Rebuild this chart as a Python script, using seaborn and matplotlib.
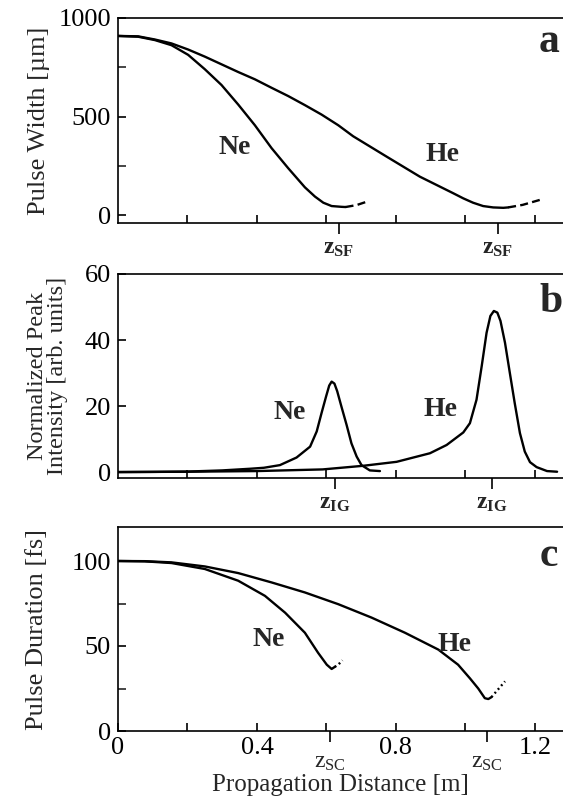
import numpy as np
import pandas as pd
import matplotlib
matplotlib.use("Agg")
import matplotlib.pyplot as plt
import seaborn as sns

# ---- data -------------------------------------------------------------
# (a) pulse width [um] vs propagation distance [m]
width_ne_x = [0.0, 0.058, 0.106, 0.154, 0.202, 0.250, 0.298, 0.346, 0.394, 0.442,
              0.490, 0.538, 0.567, 0.591, 0.615, 0.644, 0.655]
width_ne_y = [909, 905, 888, 862, 813, 740, 660, 561, 456, 340,
              238, 141, 94, 63, 46, 42, 41]
width_ne_tail_x = [0.655, 0.687, 0.716]
width_ne_tail_y = [41, 51, 68]
width_he_x = [0.0, 0.058, 0.106, 0.154, 0.202, 0.250, 0.298, 0.346, 0.394, 0.442,
              0.490, 0.538, 0.586, 0.634, 0.677, 0.773, 0.869, 0.917, 0.965, 0.994,
              1.022, 1.051, 1.080, 1.109, 1.123]
width_he_y = [909, 907, 891, 871, 840, 804, 765, 726, 689, 646,
              604, 558, 510, 456, 400, 297, 195, 153, 111, 85,
              63, 46, 39, 37, 39]
width_he_tail_x = [1.123, 1.165, 1.214]
width_he_tail_y = [39, 52, 77]

# (b) normalized peak intensity [arb. units]
inten_ne_x = [0.0, 0.1, 0.2, 0.3, 0.38, 0.42, 0.466, 0.514, 0.553, 0.572, 0.586,
              0.599, 0.608, 0.615, 0.623, 0.631, 0.643, 0.658, 0.672, 0.687,
              0.701, 0.725, 0.754]
inten_ne_y = [0.0, 0.05, 0.15, 0.5, 1.0, 1.3, 2.1, 4.4, 7.7, 12.3, 17.9,
              22.9, 26.2, 27.4, 26.8, 24.5, 19.9, 14.3, 8.7, 4.7,
              2.1, 0.5, 0.3]
inten_he_x = [0.0, 0.2, 0.4, 0.589, 0.706, 0.802, 0.898, 0.946, 0.994, 1.013,
              1.032, 1.047, 1.061, 1.072, 1.082, 1.092, 1.101, 1.114, 1.128,
              1.142, 1.157, 1.171, 1.186, 1.205, 1.235, 1.264]
inten_he_y = [0.0, 0.1, 0.3, 0.8, 1.9, 3.1, 5.7, 8.2, 12.0, 14.8,
              21.9, 32.1, 42.2, 47.3, 48.8, 48.3, 45.8, 39.2, 30.0,
              20.9, 11.8, 6.2, 3.0, 1.5, 0.3, 0.1]

# (c) pulse duration [fs]
dur_ne_x = [0.0, 0.077, 0.154, 0.25, 0.346, 0.423, 0.481, 0.538, 0.576, 0.601, 0.615, 0.624]
dur_ne_y = [100, 99.8, 98.8, 95.3, 88.4, 79.5, 69.6, 57.8, 46.0, 39.0, 36.5, 37.7]
dur_ne_tail_x = [0.624, 0.634, 0.646]
dur_ne_tail_y = [37.7, 39.0, 41.6]
dur_he_x = [0.0, 0.077, 0.154, 0.25, 0.346, 0.442, 0.538, 0.634, 0.730, 0.826, 0.922,
            0.979, 1.013, 1.037, 1.056, 1.066, 1.075]
dur_he_y = [100, 99.9, 99.2, 96.8, 92.9, 87.4, 81.5, 74.6, 66.7, 57.8, 47.9,
            39.0, 31.0, 25.0, 19.3, 18.8, 19.9]
dur_he_tail_x = [1.075, 1.085, 1.114]
dur_he_tail_y = [19.9, 22.3, 29.2]

# characteristic distances marked under each panel
z_sf = [0.636, 1.094]
z_ig = [0.625, 1.077]
z_sc = [0.609, 1.061]

x_ticks = [0.2, 0.4, 0.6, 0.8, 1.0, 1.2]
c_tick_labels = ["0", "", "0.4", "", "0.8", "", "1.2"]

# ---- style ------------------------------------------------------------
sns.set_theme(style="ticks")
plt.rcParams["font.family"] = ["Liberation Serif", "DejaVu Serif"]
plt.rcParams["mathtext.fontset"] = "custom"
plt.rcParams["mathtext.rm"] = "Liberation Serif"
plt.rcParams["mathtext.it"] = "Liberation Serif:italic"
plt.rcParams["mathtext.bf"] = "Liberation Serif:bold"
plt.rcParams["axes.linewidth"] = 1.2
plt.rcParams["axes.edgecolor"] = "black"

W, H = 563, 796
fig = plt.figure(figsize=(W / 100, H / 100), dpi=100)
fig.patch.set_facecolor("white")


def axes_at(left, top, bottom, right=W):
    return fig.add_axes([left / W, 1 - bottom / H, (right - left) / W, (bottom - top) / H])


ax_a = axes_at(118, 18, 223)
ax_b = axes_at(118, 274, 478)
ax_c = axes_at(118, 527, 731)

LW = 1.7
DASH = (0, (3.4, 1.8))
DOT = (0, (0.8, 1.3))


def curve(ax, x, y, ls="-"):
    sns.lineplot(x=x, y=y, ax=ax, color="black", lw=LW, linestyle=ls,
                 estimator=None, sort=False, errorbar=None)


curve(ax_a, width_ne_x, width_ne_y)
curve(ax_a, width_ne_tail_x, width_ne_tail_y, DASH)
curve(ax_a, width_he_x, width_he_y)
curve(ax_a, width_he_tail_x, width_he_tail_y, DASH)

curve(ax_b, inten_ne_x, inten_ne_y)
curve(ax_b, inten_he_x, inten_he_y)

curve(ax_c, dur_ne_x, dur_ne_y)
curve(ax_c, dur_ne_tail_x, dur_ne_tail_y, DOT)
curve(ax_c, dur_he_x, dur_he_y)
curve(ax_c, dur_he_tail_x, dur_he_tail_y, DOT)

XMAX = 1.281
TICK_FS = 19
for ax in (ax_a, ax_b, ax_c):
    ax.set_xlim(0, XMAX)
    ax.spines["right"].set_visible(False)
    ax.set_xlabel("")
    ax.set_ylabel("")
    ax.tick_params(axis="both", which="major", direction="in", length=5.5, width=1.2,
                   labelsize=TICK_FS, color="black", labelcolor="black")
    ax.tick_params(axis="y", which="major", pad=5)
    ax.tick_params(axis="y", which="minor", direction="in", length=5.5, width=1.2)
    ax.tick_params(axis="x", which="minor", direction="out", length=8, width=1.4,
                   labelsize=17, pad=3)
    ax.set_facecolor("white")

# panel a
ax_a.set_ylim(-40, 1000)
ax_a.set_yticks([0, 500, 1000])
ax_a.set_yticks([250, 750], minor=True)
ax_a.set_xticks(x_ticks, labels=[""] * len(x_ticks))
ax_a.set_xticks(z_sf, minor=True, labels=[r"$\mathbf{z_{SF}}$"] * 2)
ax_a.yaxis.set_label_coords(-0.153, 0.5)
ax_a.set_ylabel("Pulse Width [µm]", fontsize=19)

# panel b
ax_b.set_ylim(-1.8, 60)
ax_b.set_yticks([0, 20, 40, 60])
ax_b.set_xticks(x_ticks, labels=[""] * len(x_ticks))
ax_b.set_xticks(z_ig, minor=True, labels=[r"$\mathbf{z_{IG}}$"] * 2)
ax_b.yaxis.set_label_coords(-0.112, 0.47)
ax_b.set_ylabel("Normalized Peak\nIntensity [arb. units]", fontsize=17.5, linespacing=0.95)

# panel c
ax_c.set_ylim(0, 120)
ax_c.set_yticks([0, 50, 100])
ax_c.set_yticks([25, 75], minor=True)
ax_c.set_xticks([0.0] + x_ticks, labels=c_tick_labels)
ax_c.set_xticks(z_sc, minor=True, labels=[r"$\mathregular{z_{SC}}$"] * 2)
ax_c.tick_params(axis="x", which="major", pad=4)
ax_c.tick_params(axis="x", which="minor", pad=7)
ax_c.yaxis.set_label_coords(-0.158, 0.45)
ax_c.set_ylabel("Pulse Duration [fs]", fontsize=19)

fig.text(340 / W, 1 - 785 / H, "Propagation Distance [m]", fontsize=18,
         ha="center", va="center")

# curve names and panel letters
bold = dict(fontsize=20, fontweight="bold", ha="center", va="center")
ax_a.text(0.337, 342, "Ne", **bold)
ax_a.text(0.935, 306, "He", **bold)
ax_b.text(0.495, 17.9, "Ne", **bold)
ax_b.text(0.927, 18.9, "He", **bold)
ax_c.text(0.433, 53.8, "Ne", **bold)
ax_c.text(0.970, 50.9, "He", **bold)

letter = dict(fontsize=30, fontweight="bold", ha="left", va="center")
ax_a.text(1.212, 877, "a", **letter)
ax_b.text(1.212, 51.5, "b", **letter)
ax_c.text(1.215, 103, "c", **letter)

fig.savefig("out.png", dpi=100, facecolor="white")
